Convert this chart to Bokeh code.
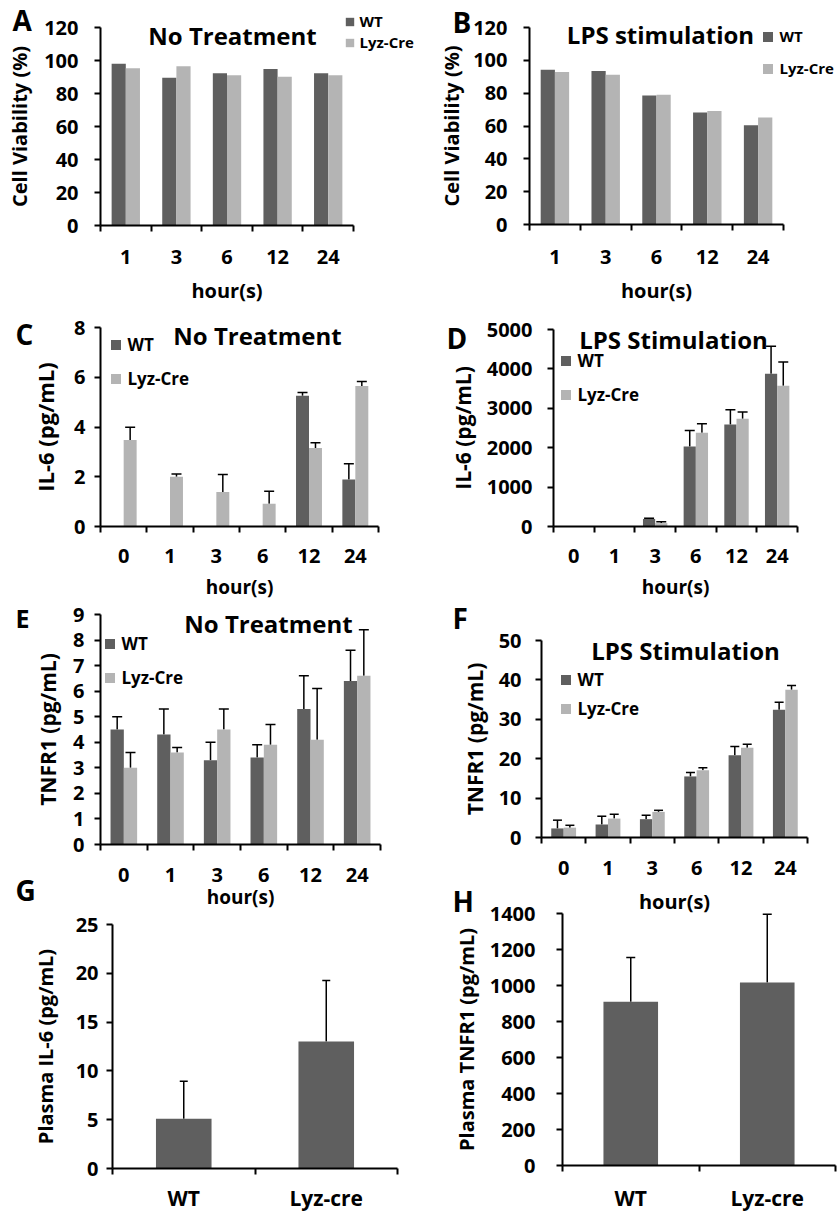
import numpy as np
from bokeh.plotting import figure
from bokeh.models import (ColumnDataSource, Range1d, FixedTicker, LinearAxis,
                          Whisker, TeeHead, Label, Legend, LegendItem)
from bokeh.layouts import row, column
from bokeh.embed import file_html
from bokeh.resources import INLINE

# ---------------- data ----------------
hours_ab = ["1", "3", "6", "12", "24"]
a_wt = [98.0, 89.6, 92.3, 94.9, 92.3]
a_lyz = [95.3, 96.5, 91.0, 90.2, 91.0]
b_wt = [94.3, 93.5, 78.6, 68.2, 60.5]
b_lyz = [92.9, 91.2, 79.0, 69.2, 65.2]

hours_cf = ["0", "1", "3", "6", "12", "24"]
c_wt = [0, 0, 0, 0, 5.26, 1.89]
c_wt_err = [0, 0, 0, 0, 0.13, 0.63]
c_lyz = [3.48, 2.0, 1.39, 0.91, 3.16, 5.65]
c_lyz_err = [0.51, 0.11, 0.70, 0.51, 0.21, 0.18]

d_wt = [0, 0, 190, 2029, 2589, 3880]
d_wt_err = [0, 0, 20, 408, 374, 696]
d_lyz = [0, 0, 85, 2377, 2734, 3574]
d_lyz_err = [0, 0, 35, 229, 170, 603]

e_wt = [4.5, 4.3, 3.3, 3.4, 5.3, 6.4]
e_wt_err = [0.5, 1.0, 0.7, 0.5, 1.3, 1.2]
e_lyz = [3.0, 3.6, 4.5, 3.9, 4.1, 6.6]
e_lyz_err = [0.6, 0.2, 0.8, 0.8, 2.0, 1.8]

f_wt = [2.3, 3.3, 4.65, 15.5, 20.9, 32.4]
f_wt_err = [2.1, 2.1, 1.0, 1.0, 2.2, 1.9]
f_lyz = [2.5, 4.8, 6.5, 17.1, 22.8, 37.5]
f_lyz_err = [0.6, 1.1, 0.4, 0.6, 0.85, 1.1]

plasma_groups = ["WT", "Lyz-cre"]
g_il6 = [5.1, 13.0]
g_il6_err = [3.85, 6.25]
h_tnfr1 = [910, 1017]
h_tnfr1_err = [246, 379]

FONT = "Open Sans"
WT_COLOR = "#5f5f5f"
LYZ_COLOR = "#b4b4b4"


class Panel:
    def __init__(self, fx, fy, w, h, frame, cats, ymax, ystep, series, bar_w,
                 cap, ylabel, xlabel, tick_fs, xtick_fs, ylab_fs, xlab_fs,
                 y_std, ylab_std, x_std, xlab_std):
        self.fx, self.fy, self.w, self.h = fx, fy, w, h
        L, R, T, B = frame
        n = len(cats)
        sx = (R - L) / n
        x0 = -0.5 - (L - fx) / sx
        sy = (B - T) / ymax
        y0 = -(fy + h - B) / sy
        p = figure(width=w, height=h, x_range=Range1d(x0, x0 + w / sx),
                   y_range=Range1d(y0, y0 + h / sy), output_backend="svg",
                   toolbar_location=None, x_axis_type=None, y_axis_type=None,
                   min_border=0, min_border_left=0, min_border_right=0,
                   min_border_top=0, min_border_bottom=0)
        p.frame_align = False
        p.outline_line_color = None
        p.background_fill_color = "white"
        p.border_fill_color = "white"
        idx = np.arange(n)
        k = len(series)
        self.rends = []
        for j, (name, vals, errs, color) in enumerate(series):
            off = (j - (k - 1) / 2) * bar_w
            xs = idx + off
            vals = np.asarray(vals, dtype=float)
            src = ColumnDataSource(dict(x=xs, top=vals, cat=list(cats)))
            p.vbar(x="x", top="top", width=bar_w, source=src,
                   fill_color=color, line_color=None)
            # legend swatch (not drawn in the plot area: NaN position)
            proxy = p.scatter(x=[np.nan], y=[np.nan], marker="square",
                              size=10, fill_color=color, line_color=None)
            self.rends.append((name, proxy))
            if errs is not None:
                errs = np.asarray(errs, dtype=float)
                m = (vals > 0) & (errs > 0)
                esrc = ColumnDataSource(dict(x=xs[m], lower=vals[m],
                                             upper=vals[m] + errs[m]))
                p.add_layout(Whisker(source=esrc, base="x", lower="lower",
                                     upper="upper", dimension="height",
                                     line_color="black", line_width=1.5,
                                     lower_head=None,
                                     upper_head=TeeHead(size=cap,
                                                        line_color="black",
                                                        line_width=1.5)))
        common = dict(axis_line_width=2, axis_line_color="black",
                      major_label_text_font=FONT,
                      major_label_text_font_style="bold",
                      major_label_text_color="black",
                      axis_label_text_font=FONT,
                      axis_label_text_font_style="bold",
                      axis_label_text_color="black")
        xaxis = LinearAxis(
            fixed_location=0, bounds=(-0.5, n - 0.5),
            ticker=FixedTicker(ticks=list(range(n)),
                               minor_ticks=[i - 0.5 for i in range(n + 1)]),
            major_label_overrides={i: c for i, c in enumerate(cats)},
            major_tick_out=0, major_tick_in=0,
            minor_tick_out=6, minor_tick_in=0, minor_tick_line_width=2,
            minor_tick_line_color="black",
            major_label_text_font_size=f"{xtick_fs}px",
            major_label_standoff=x_std,
            axis_label=xlabel, axis_label_standoff=xlab_std,
            axis_label_text_font_size=f"{xlab_fs}px", **common)
        p.add_layout(xaxis, "below")
        yaxis = LinearAxis(
            fixed_location=-0.5, bounds=(0, ymax),
            ticker=FixedTicker(ticks=list(np.arange(0, ymax + ystep / 2, ystep)),
                               minor_ticks=[]),
            major_tick_out=6, major_tick_in=0, major_tick_line_width=2,
            major_tick_line_color="black", minor_tick_out=0, minor_tick_in=0,
            major_label_text_font_size=f"{tick_fs}px",
            major_label_standoff=y_std,
            axis_label=ylabel, axis_label_standoff=ylab_std,
            axis_label_text_font_size=f"{ylab_fs}px", **common)
        p.add_layout(yaxis, "left")
        self.p = p

    def text(self, txt, xp, yp, fs, align="center"):
        yp = yp - 2  # middle baseline renders slightly low
        self.p.add_layout(Label(
            x=xp - self.fx, y=self.fy + self.h - yp, x_units="screen",
            y_units="screen", text=txt, text_font=FONT,
            text_font_style="bold", text_font_size=f"{fs}px",
            text_align=align, text_baseline="middle", text_color="black"))

    def legend(self, xc, c1, c2, fs, g=25):
        items = [LegendItem(label=nm, renderers=[rr]) for nm, rr in self.rends]
        lx = xc - g / 2 - self.fx
        ly = self.fy + self.h - (c2 + g / 2)
        lg = Legend(items=items, location=(lx, ly), orientation="vertical",
                    background_fill_alpha=0, border_line_color=None,
                    padding=0, margin=0, spacing=max(0, int(round(c2 - c1 - g))),
                    glyph_width=g, glyph_height=g, label_height=g,
                    label_standoff=0, label_width=10,
                    label_text_font=FONT, label_text_font_style="bold",
                    label_text_font_size=f"{fs}px", label_text_color="black",
                    label_text_baseline="middle")
        self.p.add_layout(lg)


def two(wt, wte, lz, lze):
    return [("WT", wt, wte, WT_COLOR), ("Lyz-Cre", lz, lze, LYZ_COLOR)]


# A
A = Panel(0, 0, 420, 305, (100, 353, 27, 225), hours_ab, 120, 20,
          two(a_wt, None, a_lyz, None), 0.28, 10,
          "Cell Viability (%)", "hour(s)", 20, 20, 20, 20, 16, 8, 18, 10)
A.text("No Treatment", 232, 37, 24)
A.text("A", 12, 21, 28, "left")
A.legend(349, 21, 42, 15, g=21)

# B
B = Panel(420, 0, 419, 305, (529, 783, 27, 224), hours_ab, 120, 20,
          two(b_wt, None, b_lyz, None), 0.28, 10,
          "Cell Viability (%)", "hour(s)", 20, 20, 20, 20, 16, 5, 19, 10)
B.text("LPS stimulation", 660, 36, 24)
B.text("B", 452, 23, 28, "left")
B.legend(767, 36, 68, 15)

# C
C = Panel(0, 305, 420, 295, (100, 378, 327, 526), hours_cf, 8, 2,
          two(c_wt, c_wt_err, c_lyz, c_lyz_err), 0.28, 10,
          "IL-6 (pg/mL)", "hour(s)", 20, 20, 22, 19, 9, 11, 16, 8)
C.text("No Treatment", 257, 337, 24)
C.text("C", 15, 335, 28, "left")
C.legend(115, 344, 378, 17)

# D
D = Panel(420, 305, 419, 295, (553, 797, 329, 526), hours_cf, 5000, 1000,
          two(d_wt, d_wt_err, d_lyz, d_lyz_err), 0.30, 10,
          "IL-6 (pg/mL)", "hour(s)", 20, 20, 21, 19, 15, 7, 16, 8)
D.text("LPS Stimulation", 673, 341, 24)
D.text("D", 446, 339, 28, "left")
D.legend(565, 360, 394, 17)

# E
E = Panel(0, 600, 420, 310, (100, 380, 614, 844), hours_cf, 9, 1,
          two(e_wt, e_wt_err, e_lyz, e_lyz_err), 0.285, 10,
          "TNFR1 (pg/mL)", "hour(s)", 20, 20, 21, 19, 10, 8, 17, -1)
E.text("No Treatment", 268, 625, 24)
E.text("E", 15, 619, 25, "left")
E.text("G", 15, 891, 28, "left")
E.legend(109, 643, 677, 17)

# F
F = Panel(420, 600, 419, 282, (541, 807, 640, 837), hours_cf, 50, 10,
          two(f_wt, f_wt_err, f_lyz, f_lyz_err), 0.28, 9,
          "TNFR1 (pg/mL)", "", 20, 20, 21, 20, 14, 7, 17, 1)
F.text("LPS Stimulation", 685, 652, 24)
F.text("F", 452, 619, 28, "left")
F.legend(565, 679, 708, 17)

# G
G = Panel(0, 910, 420, 301, (112, 397, 924, 1168), plasma_groups, 25, 5,
          [("WT", g_il6, g_il6_err, WT_COLOR)], 0.39, 8,
          "Plasma IL-6 (pg/mL)", "", 20, 21, 20, 20, 8, 14, 9, 1)

# H
H = Panel(420, 882, 419, 329, (562, 835, 913, 1165), plasma_groups, 1400, 200,
          [("WT", h_tnfr1, h_tnfr1_err, WT_COLOR)], 0.40, 9,
          "Plasma TNFR1 (pg/mL)", "", 20, 21, 20, 20, 21, 7, 12, 1)
H.text("hour(s)", 674, 903, 20)
H.text("H", 452, 902, 28, "left")

layout = row(column(A.p, C.p, E.p, G.p), column(B.p, D.p, F.p, H.p))
open("out.html", "w").write(file_html(layout, INLINE))
